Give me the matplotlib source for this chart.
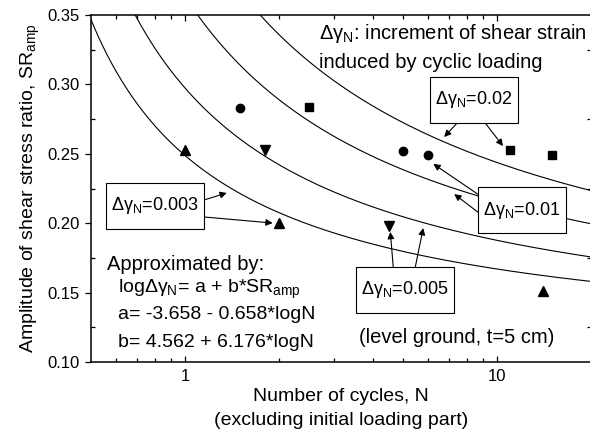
import numpy as np
import matplotlib.pyplot as plt
from matplotlib.path import Path
from matplotlib.ticker import FixedLocator, NullFormatter

plt.rcParams['font.family'] = ['Liberation Sans', 'DejaVu Sans']
plt.rcParams['mathtext.fontset'] = 'custom'
plt.rcParams['mathtext.rm'] = 'Liberation Sans'
plt.rcParams['mathtext.it'] = 'Liberation Sans:italic'

# fitted model: log(dgamma) = a + b*SR, a = a0 + a1*logN, b = b0 + b1*logN
a0, a1 = -3.658, -0.658
b0, b1 = 4.562, 6.176
strain_levels = [0.003, 0.005, 0.01, 0.02]

# test results, grouped by strain increment
sq_N = [2.5, 11.0, 15.0]            # 0.02
sq_SR = [0.284, 0.253, 0.249]
ci_N = [1.5, 5.0, 6.0]              # 0.01
ci_SR = [0.283, 0.252, 0.249]
td_N = [1.8, 4.5]                   # 0.005
td_SR = [0.253, 0.198]
tu_N = [1.0, 2.0, 14.0]             # 0.003
tu_SR = [0.253, 0.200, 0.151]


def label_box(x0, y0, width, height, mutation_size):
    # rectangle with more room above and below the text than at the sides
    px = 0.3 * mutation_size
    py = 0.68 * mutation_size
    x0, y0 = x0 - px, y0 - py
    x1, y1 = x0 + width + 2*px, y0 + height + 2*py
    return Path([(x0, y0), (x1, y0), (x1, y1), (x0, y1), (x0, y0)], closed=True)


fig = plt.figure(figsize=(5.9, 4.37), dpi=100)
ax = fig.add_axes([91/590, 75/437, (591 - 91)/590, (362 - 15)/437])

N = np.logspace(np.log10(0.5), np.log10(20), 400)
logN = np.log10(N)
for g in strain_levels:
    sr = (np.log10(g) - (a0 + a1*logN)) / (b0 + b1*logN)
    ax.plot(N, sr, color='black', lw=0.8)

ms = 6
ax.plot(sq_N, sq_SR, 's', color='black', ms=ms*0.95, ls='none')
ax.plot(ci_N, ci_SR, 'o', color='black', ms=ms, ls='none')
ax.plot(td_N, td_SR, 'v', color='black', ms=ms+0.5, ls='none')
ax.plot(tu_N, tu_SR, '^', color='black', ms=ms+0.5, ls='none')

ax.set_xscale('log')
ax.set_xlim(0.5, 20)
ax.set_ylim(0.10, 0.35)
ax.xaxis.set_major_locator(FixedLocator([1, 10]))
ax.xaxis.set_minor_locator(FixedLocator([0.6, 0.7, 0.8, 0.9, 2, 3, 4, 5, 6, 7, 8, 9, 20]))
ax.xaxis.set_minor_formatter(NullFormatter())
ax.set_xticklabels(['1', '10'])
ax.set_yticks(np.arange(0.10, 0.351, 0.05))
ax.set_yticks(np.arange(0.125, 0.35, 0.05), minor=True)
ax.set_yticklabels(['%.2f' % v for v in np.arange(0.10, 0.351, 0.05)])

for s in ax.spines.values():
    s.set_linewidth(1.1)
ax.tick_params(axis='x', which='both', direction='in', top=True, labelsize=12, width=0.9, pad=5)
ax.tick_params(axis='x', which='major', length=4.5)
ax.tick_params(axis='x', which='minor', length=2.7)
ax.tick_params(axis='y', which='major', direction='out', length=4.5, width=0.9, labelsize=12)
ax.tick_params(axis='y', which='minor', direction='in', length=3, width=0.9)
ax.tick_params(axis='y', which='both', right=True)

ax.set_xlabel('Number of cycles, N\n(excluding initial loading part)', fontsize=14, labelpad=3,
              linespacing=1.5)
ax.set_ylabel('Amplitude of shear stress ratio, SR$_\\mathrm{amp}$', fontsize=14, labelpad=4)

txt = 14.5
ax.text(2.68, 0.337, '\u0394\u03b3$_\\mathrm{N}$: increment of shear strain', fontsize=txt,
        ha='left', va='center')
ax.text(2.68, 0.316, 'induced by cyclic loading', fontsize=txt, ha='left', va='center')

ax.text(0.563, 0.1699, 'Approximated by:', fontsize=txt, ha='left', va='center')
ax.text(0.611, 0.1526, 'log\u0394\u03b3$_\\mathrm{N}$= a + b*SR$_\\mathrm{amp}$', fontsize=14,
        ha='left', va='center')
ax.text(0.611, 0.1339, 'a= -3.658 - 0.658*logN', fontsize=14, ha='left', va='center')
ax.text(0.611, 0.1144, 'b= 4.562 + 6.176*logN', fontsize=14, ha='left', va='center')
ax.text(7.45, 0.118, '(level ground, t=5 cm)', fontsize=txt, ha='center', va='center')

box = dict(boxstyle=label_box, fc='white', ec='black', lw=0.8)
arrow = dict(arrowstyle='-|>', color='black', lw=0.8, mutation_scale=10, shrinkA=0, shrinkB=0)

# label boxes with arrows: (text position, [(start, tip), ...])
labels = [
    ('0.003', (0.802, 0.2124), [((1.15, 0.2167), (1.362, 0.2218)), ((1.15, 0.2045), (1.91, 0.2001))]),
    ('0.02', (8.44, 0.2888), [((7.45, 0.2722), (6.77, 0.2621)), ((9.16, 0.2722), (10.45, 0.2556))]),
    ('0.01', (12.02, 0.2095), [((8.76, 0.2203), (6.25, 0.2427)), ((8.76, 0.2073), (7.29, 0.221))]),
    ('0.005', (5.08, 0.1519), [((4.65, 0.1684), (4.55, 0.1937)), ((5.47, 0.1684), (5.80, 0.1965))]),
]
for val, pos, arrows in labels:
    for start, tip in arrows:
        ax.annotate('', xy=tip, xytext=start, arrowprops=arrow)
    ax.text(pos[0], pos[1], '\u0394\u03b3$_\\mathrm{N}$=' + val, fontsize=13, ha='center',
            va='center', bbox=box, zorder=5)

fig.savefig('out.png', dpi=100)
